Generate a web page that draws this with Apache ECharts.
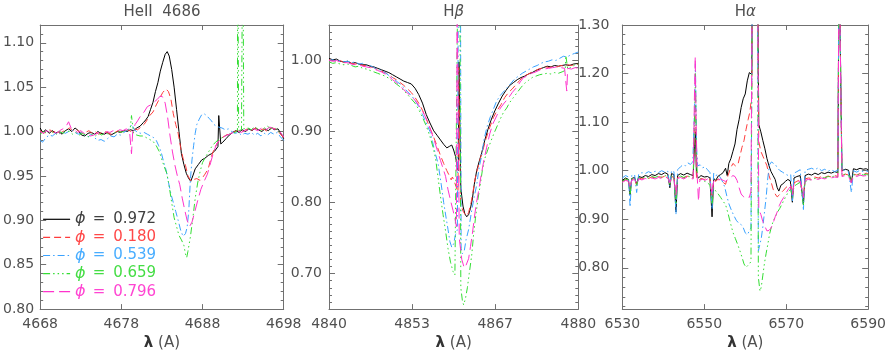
<!DOCTYPE html>
<html><head><meta charset="utf-8">
<script src="https://cdn.jsdelivr.net/npm/echarts@6/dist/echarts.min.js"></script>
<style>html,body{margin:0;padding:0;background:#fff}#c{width:889px;height:356px}</style>
</head><body><div id="c"></div>
<script>
// ---------- data ----------
const phases = ['0.972', '0.180', '0.539', '0.659', '0.796'];
const panelTitles = ['HeII  4686', 'H{g|β}', 'H{g|α}'];
const xLabelName = '{l|λ} (A)';

const heXTicks = [4668, 4678, 4688, 4698];
const hbXTicks = [4840, 4853.333, 4866.667, 4880];
const haXTicks = [6530, 6550, 6570, 6590];
const heYTicks = [0.80, 0.85, 0.90, 0.95, 1.00, 1.05, 1.10];
const hbYTicks = [0.70, 0.80, 0.90, 1.00];
const haYTicks = [0.80, 0.90, 1.00, 1.10, 1.20, 1.30];

// HeII 4686
const he972 = [[4668.0,1.004],[4668.3,0.999],[4668.7,1.002],[4669.1,0.998],[4669.5,1.001],[4669.9,0.998],[4670.3,1.000],[4670.7,0.997],[4671.1,1.001],[4671.5,1.003],[4671.9,1.000],[4672.3,1.004],[4672.7,1.001],[4673.1,0.996],[4673.5,0.995],[4673.9,0.998],[4674.3,0.999],[4674.7,0.997],[4675.1,1.000],[4675.5,0.998],[4675.9,0.997],[4676.3,0.999],[4676.7,0.996],[4677.1,0.998],[4677.5,1.000],[4677.9,0.999],[4678.3,1.001],[4678.7,1.000],[4679.1,1.002],[4679.5,1.001],[4679.9,1.004],[4680.3,1.006],[4680.7,1.010],[4681.0,1.013],[4681.3,1.017],[4681.6,1.025],[4681.9,1.033],[4682.2,1.045],[4682.5,1.055],[4682.8,1.068],[4683.1,1.078],[4683.4,1.087],[4683.65,1.090],[4683.9,1.085],[4684.2,1.070],[4684.5,1.050],[4684.8,1.025],[4685.1,1.000],[4685.4,0.975],[4685.7,0.963],[4686.0,0.953],[4686.3,0.947],[4686.55,0.944],[4686.8,0.950],[4687.1,0.958],[4687.5,0.963],[4687.9,0.968],[4688.3,0.970],[4688.7,0.973],[4689.1,0.975],[4689.5,0.978],[4689.9,0.983],[4690.0,1.018],[4690.15,1.019],[4690.25,0.986],[4690.5,0.988],[4690.9,0.992],[4691.3,0.996],[4691.7,0.999],[4692.1,1.001],[4692.5,0.999],[4692.9,1.002],[4693.3,1.000],[4693.7,1.003],[4694.1,1.001],[4694.5,1.004],[4694.9,1.002],[4695.3,1.000],[4695.7,1.003],[4696.1,1.001],[4696.5,1.004],[4696.9,1.002],[4697.3,1.003],[4697.7,0.997],[4698.0,0.992]];
const he180 = [[4668.0,1.001],[4668.4,0.998],[4668.8,1.000],[4669.2,1.002],[4669.6,0.999],[4670.0,1.001],[4670.4,0.998],[4670.8,1.000],[4671.2,1.002],[4671.6,1.004],[4672.0,1.001],[4672.4,1.003],[4672.8,1.000],[4673.2,0.998],[4673.6,0.999],[4674.0,1.001],[4674.4,0.998],[4674.8,1.000],[4675.2,0.997],[4675.6,0.999],[4676.0,1.000],[4676.4,0.998],[4676.8,0.997],[4677.2,0.999],[4677.6,1.001],[4678.0,0.999],[4678.4,1.000],[4678.8,1.002],[4679.2,1.000],[4679.6,1.003],[4680.0,1.002],[4680.4,1.005],[4680.8,1.008],[4681.1,1.012],[4681.5,1.018],[4681.9,1.022],[4682.3,1.030],[4682.7,1.037],[4683.1,1.044],[4683.5,1.048],[4683.8,1.045],[4684.1,1.037],[4684.4,1.020],[4684.7,1.008],[4685.0,0.998],[4685.3,0.982],[4685.6,0.970],[4685.9,0.962],[4686.2,0.950],[4686.6,0.944],[4686.9,0.946],[4687.3,0.947],[4687.7,0.945],[4688.0,0.948],[4688.3,0.952],[4688.7,0.958],[4689.1,0.972],[4689.5,0.982],[4689.9,0.988],[4690.4,0.993],[4690.9,0.996],[4691.5,0.998],[4692.0,1.000],[4692.5,1.002],[4693.0,1.000],[4693.5,1.003],[4694.0,1.001],[4694.5,1.004],[4695.0,1.001],[4695.5,1.003],[4696.0,1.000],[4696.5,1.004],[4697.0,1.003],[4697.5,0.998],[4698.0,0.993]];
const he539 = [[4668.0,0.990],[4668.3,0.988],[4668.7,0.993],[4669.1,0.996],[4669.5,0.995],[4669.9,0.998],[4670.3,0.997],[4670.7,1.000],[4671.1,0.998],[4671.5,1.000],[4671.9,1.002],[4672.3,0.999],[4672.7,0.997],[4673.1,0.999],[4673.5,0.996],[4673.9,0.994],[4674.3,0.997],[4674.7,0.993],[4675.1,0.990],[4675.5,0.991],[4675.9,0.989],[4676.3,0.992],[4676.7,0.995],[4677.1,0.994],[4677.5,0.997],[4677.9,0.996],[4678.3,0.999],[4678.7,1.001],[4679.0,1.004],[4679.3,1.008],[4679.6,1.002],[4680.0,0.999],[4680.4,0.998],[4680.8,0.999],[4681.2,0.997],[4681.6,0.995],[4682.0,0.993],[4682.3,0.990],[4682.6,0.984],[4682.9,0.977],[4683.2,0.966],[4683.5,0.957],[4683.8,0.943],[4684.1,0.930],[4684.4,0.920],[4684.7,0.910],[4685.0,0.900],[4685.3,0.889],[4685.6,0.882],[4685.9,0.885],[4686.1,0.892],[4686.3,0.910],[4686.5,0.945],[4686.7,0.968],[4686.9,0.984],[4687.1,0.998],[4687.3,1.008],[4687.6,1.014],[4687.9,1.019],[4688.2,1.020],[4688.5,1.018],[4688.8,1.015],[4689.1,1.012],[4689.4,1.008],[4689.7,1.006],[4690.0,1.005],[4690.4,1.004],[4690.8,1.002],[4691.2,1.003],[4691.6,1.000],[4692.0,0.998],[4692.4,0.999],[4692.8,0.996],[4693.2,0.998],[4693.6,0.997],[4694.0,0.999],[4694.4,0.996],[4694.8,0.998],[4695.2,0.995],[4695.6,0.998],[4696.0,0.996],[4696.4,0.999],[4696.8,0.997],[4697.2,0.999],[4697.6,0.994],[4698.0,0.990]];
const he659 = [[4668.0,0.997],[4668.4,1.000],[4668.8,0.998],[4669.2,1.001],[4669.6,0.999],[4670.0,0.997],[4670.4,1.000],[4670.8,0.998],[4671.2,1.001],[4671.6,1.000],[4672.0,0.997],[4672.4,0.999],[4672.8,0.996],[4673.2,0.998],[4673.6,0.996],[4674.0,0.994],[4674.4,0.997],[4674.8,0.995],[4675.2,0.998],[4675.6,0.996],[4676.0,0.999],[4676.4,0.997],[4676.8,1.000],[4677.2,0.998],[4677.6,1.001],[4678.0,0.999],[4678.4,1.001],[4678.8,1.002],[4679.1,1.004],[4679.25,1.018],[4679.35,1.017],[4679.5,0.998],[4679.9,0.996],[4680.3,0.995],[4680.7,0.995],[4681.1,0.993],[4681.5,0.991],[4681.9,0.989],[4682.3,0.984],[4682.7,0.977],[4683.0,0.968],[4683.3,0.960],[4683.6,0.953],[4683.9,0.938],[4684.2,0.920],[4684.5,0.903],[4684.8,0.893],[4685.1,0.883],[4685.4,0.878],[4685.7,0.872],[4685.9,0.862],[4686.05,0.858],[4686.2,0.865],[4686.5,0.881],[4686.8,0.902],[4687.1,0.925],[4687.4,0.942],[4687.7,0.955],[4688.0,0.965],[4688.4,0.972],[4688.8,0.978],[4689.2,0.984],[4689.6,0.988],[4690.0,0.991],[4690.4,0.993],[4690.8,0.995],[4691.2,0.997],[4691.6,0.998],[4692.0,0.999],[4692.3,1.001],[4692.33,1.25],[4692.42,1.25],[4692.45,1.001],[4692.8,1.002],[4692.93,1.003],[4692.96,1.25],[4693.05,1.25],[4693.08,1.003],[4693.6,1.004],[4694.0,1.002],[4694.4,1.005],[4694.8,1.003],[4695.2,1.001],[4695.6,1.004],[4696.0,1.006],[4696.4,1.003],[4696.8,1.005],[4697.2,1.002],[4697.6,0.998],[4698.0,0.994]];
const he796 = [[4668.0,1.000],[4668.4,0.998],[4668.8,1.001],[4669.2,0.999],[4669.6,1.000],[4670.0,0.998],[4670.4,1.001],[4670.8,1.003],[4671.2,1.006],[4671.5,1.011],[4671.8,1.004],[4672.2,1.002],[4672.6,0.999],[4673.0,1.001],[4673.4,0.998],[4673.8,0.997],[4674.2,0.995],[4674.6,0.996],[4675.0,0.998],[4675.4,0.999],[4675.8,0.997],[4676.2,1.000],[4676.6,0.999],[4677.0,1.001],[4677.4,1.000],[4677.8,1.002],[4678.2,1.001],[4678.6,1.003],[4679.0,1.001],[4679.2,0.999],[4679.25,0.975],[4679.35,0.975],[4679.4,1.000],[4679.7,1.008],[4680.0,1.012],[4680.4,1.018],[4680.8,1.022],[4681.2,1.028],[4681.6,1.030],[4682.0,1.033],[4682.4,1.036],[4682.8,1.040],[4683.1,1.039],[4683.4,1.032],[4683.7,1.016],[4684.0,0.995],[4684.3,0.977],[4684.6,0.962],[4684.9,0.950],[4685.2,0.940],[4685.5,0.925],[4685.8,0.912],[4686.1,0.900],[4686.4,0.893],[4686.7,0.898],[4687.0,0.908],[4687.4,0.922],[4687.8,0.935],[4688.2,0.944],[4688.6,0.952],[4689.0,0.965],[4689.4,0.978],[4689.8,0.987],[4690.3,0.992],[4690.8,0.995],[4691.3,0.997],[4691.8,0.999],[4692.3,1.001],[4692.8,0.999],[4693.3,1.002],[4693.8,1.000],[4694.3,1.003],[4694.8,1.001],[4695.3,1.004],[4695.8,1.002],[4696.3,1.005],[4696.8,1.003],[4697.3,1.002],[4697.7,0.998],[4698.0,0.994]];

// H-beta
const hb972 = [[4840.0,1.003],[4840.6,1.001],[4841.2,1.002],[4841.8,0.999],[4842.4,0.998],[4843.0,0.999],[4843.6,0.996],[4844.2,0.997],[4844.8,0.995],[4845.4,0.994],[4846.0,0.994],[4846.6,0.992],[4847.2,0.991],[4847.8,0.989],[4848.4,0.987],[4849.0,0.985],[4849.6,0.983],[4850.2,0.980],[4850.8,0.977],[4851.4,0.974],[4852.0,0.971],[4852.6,0.969],[4853.2,0.967],[4853.8,0.961],[4854.4,0.952],[4855.0,0.940],[4855.6,0.924],[4856.2,0.912],[4856.8,0.901],[4857.4,0.894],[4857.9,0.888],[4858.4,0.882],[4858.9,0.877],[4859.3,0.879],[4859.7,0.881],[4860.0,0.874],[4860.3,0.865],[4860.55,0.852],[4860.75,0.845],[4860.85,0.998],[4861.0,0.996],[4861.15,0.820],[4861.5,0.795],[4861.8,0.784],[4862.1,0.780],[4862.4,0.783],[4862.7,0.792],[4863.0,0.805],[4863.3,0.825],[4863.7,0.845],[4864.1,0.858],[4864.5,0.870],[4865.0,0.888],[4865.5,0.903],[4866.0,0.916],[4866.6,0.929],[4867.2,0.940],[4867.8,0.950],[4868.4,0.958],[4869.0,0.965],[4869.6,0.969],[4870.2,0.973],[4870.8,0.976],[4871.4,0.978],[4872.0,0.981],[4872.6,0.983],[4873.2,0.986],[4873.8,0.988],[4874.4,0.990],[4875.0,0.992],[4875.6,0.991],[4876.2,0.993],[4876.8,0.992],[4877.4,0.993],[4878.0,0.994],[4878.6,0.993],[4879.2,0.995],[4880.0,0.996]];
const hb180 = [[4840.0,1.001],[4840.6,1.000],[4841.2,0.999],[4841.8,1.000],[4842.4,0.997],[4843.0,0.998],[4843.6,0.996],[4844.2,0.995],[4844.8,0.996],[4845.4,0.993],[4846.0,0.993],[4846.6,0.991],[4847.2,0.990],[4847.8,0.987],[4848.4,0.985],[4849.0,0.983],[4849.6,0.980],[4850.2,0.976],[4850.8,0.973],[4851.4,0.969],[4852.0,0.965],[4852.6,0.960],[4853.2,0.955],[4853.8,0.948],[4854.4,0.940],[4855.0,0.930],[4855.6,0.918],[4856.2,0.905],[4856.8,0.892],[4857.4,0.878],[4857.9,0.866],[4858.4,0.855],[4858.9,0.845],[4859.3,0.838],[4859.6,0.832],[4859.8,0.836],[4860.1,0.830],[4860.4,0.822],[4860.7,0.815],[4860.8,0.99],[4860.95,0.99],[4861.1,0.800],[4861.5,0.788],[4861.8,0.784],[4862.1,0.781],[4862.4,0.786],[4862.8,0.800],[4863.1,0.815],[4863.4,0.832],[4863.8,0.846],[4864.2,0.860],[4864.7,0.874],[4865.2,0.890],[4865.8,0.906],[4866.4,0.920],[4867.0,0.930],[4867.6,0.938],[4868.2,0.948],[4868.8,0.955],[4869.4,0.960],[4870.0,0.966],[4870.6,0.972],[4871.2,0.978],[4871.8,0.980],[4872.4,0.983],[4873.0,0.985],[4873.6,0.988],[4874.2,0.989],[4874.8,0.991],[4875.4,0.990],[4876.0,0.992],[4876.6,0.991],[4877.2,0.993],[4877.8,0.992],[4878.4,0.994],[4879.0,0.993],[4879.6,0.996],[4880.0,0.994]];
const hb539 = [[4840.0,1.000],[4840.6,1.001],[4841.2,0.999],[4841.8,1.000],[4842.4,0.998],[4843.0,0.999],[4843.6,0.997],[4844.2,0.998],[4844.8,0.995],[4845.4,0.996],[4846.0,0.993],[4846.6,0.993],[4847.2,0.990],[4847.8,0.988],[4848.4,0.986],[4849.0,0.983],[4849.6,0.979],[4850.2,0.976],[4850.8,0.971],[4851.4,0.967],[4852.0,0.962],[4852.6,0.956],[4853.2,0.951],[4853.8,0.944],[4854.4,0.935],[4855.0,0.924],[4855.6,0.912],[4856.2,0.900],[4856.6,0.886],[4857.0,0.871],[4857.5,0.855],[4858.0,0.826],[4858.4,0.800],[4858.8,0.778],[4859.1,0.762],[4859.4,0.745],[4859.7,0.737],[4860.0,0.742],[4860.3,0.755],[4860.6,0.762],[4860.75,1.1],[4861.1,1.1],[4861.2,0.735],[4861.4,0.728],[4861.7,0.732],[4862.0,0.748],[4862.4,0.762],[4862.9,0.789],[4863.3,0.808],[4863.7,0.825],[4864.1,0.850],[4864.5,0.866],[4864.9,0.890],[4865.4,0.908],[4865.9,0.921],[4866.4,0.932],[4866.9,0.943],[4867.5,0.951],[4868.1,0.957],[4868.6,0.962],[4869.2,0.968],[4869.8,0.974],[4870.4,0.978],[4871.0,0.982],[4871.6,0.985],[4872.2,0.988],[4872.8,0.991],[4873.4,0.993],[4874.0,0.996],[4874.6,0.998],[4875.2,0.999],[4875.8,1.001],[4876.4,1.000],[4877.0,1.003],[4877.6,1.006],[4878.2,1.005],[4878.8,1.008],[4879.4,1.010],[4880.0,1.012]];
const hb659 = [[4840.0,0.998],[4840.6,0.996],[4841.2,0.997],[4841.8,0.995],[4842.4,0.994],[4843.0,0.995],[4843.6,0.993],[4844.2,0.991],[4844.8,0.992],[4845.4,0.989],[4846.0,0.988],[4846.6,0.986],[4847.2,0.984],[4847.8,0.982],[4848.4,0.980],[4849.0,0.978],[4849.6,0.975],[4850.2,0.971],[4850.8,0.967],[4851.4,0.963],[4852.0,0.958],[4852.6,0.952],[4853.2,0.946],[4853.8,0.940],[4854.4,0.931],[4855.0,0.920],[4855.6,0.908],[4856.2,0.893],[4856.7,0.878],[4857.1,0.862],[4857.5,0.835],[4857.9,0.808],[4858.3,0.783],[4858.7,0.760],[4859.1,0.735],[4859.5,0.716],[4859.9,0.703],[4860.2,0.698],[4860.5,0.700],[4860.65,1.1],[4861.0,1.1],[4861.15,0.680],[4861.4,0.662],[4861.6,0.656],[4861.9,0.665],[4862.2,0.680],[4862.5,0.700],[4862.9,0.726],[4863.2,0.755],[4863.5,0.778],[4863.9,0.805],[4864.2,0.821],[4864.6,0.845],[4865.0,0.862],[4865.5,0.875],[4866.0,0.887],[4866.5,0.898],[4867.0,0.908],[4867.5,0.918],[4868.0,0.927],[4868.5,0.933],[4869.0,0.941],[4869.6,0.948],[4870.2,0.955],[4870.8,0.962],[4871.4,0.968],[4872.0,0.972],[4872.6,0.976],[4873.2,0.978],[4873.8,0.980],[4874.4,0.981],[4875.0,0.982],[4875.6,0.981],[4876.2,0.983],[4876.8,0.982],[4877.4,0.984],[4877.9,0.986],[4878.0,1.007],[4878.15,1.008],[4878.3,0.988],[4878.9,0.991],[4879.5,0.994],[4880.0,0.995]];
const hb796 = [[4840.0,1.000],[4840.6,0.999],[4841.2,1.000],[4841.8,0.998],[4842.4,0.997],[4843.0,0.997],[4843.6,0.995],[4844.2,0.994],[4844.8,0.994],[4845.4,0.992],[4846.0,0.991],[4846.6,0.990],[4847.2,0.988],[4847.8,0.986],[4848.4,0.984],[4849.0,0.981],[4849.6,0.978],[4850.2,0.973],[4850.8,0.969],[4851.4,0.964],[4852.0,0.959],[4852.6,0.954],[4853.2,0.950],[4853.8,0.944],[4854.4,0.937],[4855.0,0.929],[4855.6,0.918],[4856.2,0.905],[4856.8,0.890],[4857.4,0.873],[4857.9,0.859],[4858.3,0.848],[4858.7,0.837],[4859.1,0.818],[4859.5,0.803],[4859.9,0.789],[4860.2,0.778],[4860.45,0.766],[4860.55,1.1],[4860.75,1.1],[4860.9,0.750],[4861.3,0.720],[4861.7,0.708],[4862.0,0.712],[4862.4,0.721],[4862.7,0.738],[4863.0,0.756],[4863.4,0.784],[4863.7,0.802],[4864.0,0.816],[4864.4,0.838],[4864.8,0.857],[4865.3,0.878],[4865.8,0.897],[4866.3,0.911],[4866.9,0.922],[4867.5,0.933],[4868.1,0.940],[4868.7,0.946],[4869.4,0.955],[4870.1,0.962],[4870.7,0.970],[4871.2,0.976],[4871.8,0.978],[4872.5,0.982],[4873.2,0.984],[4873.9,0.987],[4874.5,0.988],[4875.2,0.989],[4875.9,0.990],[4876.5,0.991],[4877.2,0.990],[4877.8,0.989],[4878.0,0.970],[4878.15,0.957],[4878.3,0.989],[4878.9,0.988],[4879.5,0.990],[4880.0,0.989]];

// H-alpha
const ha972 = [[6530.0,0.980],[6530.8,0.985],[6531.5,0.982],[6531.9,0.950],[6532.3,0.984],[6533.0,0.986],[6533.5,0.972],[6534.0,0.988],[6534.8,0.986],[6535.6,0.990],[6536.4,0.988],[6537.2,0.992],[6538.0,0.990],[6538.8,0.994],[6539.6,0.992],[6540.4,0.996],[6541.1,0.993],[6541.6,0.965],[6542.0,0.994],[6542.6,0.992],[6543.1,0.915],[6543.5,0.990],[6544.2,0.994],[6545.0,0.991],[6545.8,0.995],[6546.6,0.992],[6547.3,0.990],[6547.6,1.050],[6547.85,1.080],[6548.1,0.992],[6548.6,0.985],[6549.2,0.990],[6550.0,0.987],[6550.8,0.988],[6551.4,0.985],[6551.9,0.905],[6552.3,0.984],[6552.8,0.980],[6553.4,0.989],[6554.0,0.992],[6554.6,0.996],[6555.2,1.005],[6555.6,0.990],[6556.0,1.015],[6556.5,1.025],[6557.0,1.040],[6557.5,1.055],[6558.0,1.085],[6558.5,1.105],[6559.0,1.130],[6559.5,1.148],[6560.0,1.158],[6560.5,1.185],[6561.0,1.202],[6561.3,1.205],[6561.6,1.198],[6561.75,1.45],[6563.0,1.45],[6563.3,1.095],[6563.8,1.080],[6564.3,1.062],[6564.8,1.045],[6565.3,1.025],[6565.8,1.010],[6566.3,0.998],[6566.8,0.990],[6567.3,0.982],[6567.8,0.965],[6568.2,0.958],[6568.7,0.970],[6569.2,0.973],[6569.8,0.978],[6570.4,0.982],[6571.0,0.979],[6571.5,0.935],[6571.9,0.985],[6572.6,0.988],[6573.4,0.990],[6574.2,0.930],[6574.6,0.990],[6575.4,0.993],[6576.2,0.991],[6577.0,0.995],[6577.8,0.992],[6578.6,0.996],[6579.4,0.994],[6580.2,0.997],[6581.0,0.995],[6581.8,0.998],[6582.6,0.996],[6582.9,1.45],[6583.3,1.45],[6583.6,1.000],[6584.4,1.003],[6585.2,1.001],[6585.9,0.975],[6586.4,1.004],[6587.2,1.002],[6588.0,1.005],[6588.8,1.003],[6589.5,1.004],[6590.0,1.002]];
const ha180 = [[6530.0,0.978],[6530.8,0.982],[6531.5,0.980],[6531.9,0.960],[6532.3,0.982],[6533.0,0.984],[6533.5,0.970],[6534.0,0.985],[6534.8,0.983],[6535.6,0.986],[6536.4,0.984],[6537.2,0.987],[6538.0,0.985],[6538.8,0.988],[6539.6,0.986],[6540.4,0.989],[6541.1,0.987],[6541.6,0.975],[6542.0,0.988],[6542.6,0.986],[6543.1,0.950],[6543.5,0.986],[6544.2,0.988],[6545.0,0.985],[6545.8,0.989],[6546.6,0.986],[6547.3,0.985],[6547.6,1.100],[6547.85,1.150],[6548.1,0.986],[6548.6,0.980],[6549.2,0.984],[6550.0,0.982],[6550.8,0.985],[6551.4,0.982],[6551.9,0.950],[6552.3,0.981],[6552.8,0.978],[6553.4,0.983],[6554.0,0.980],[6554.6,0.976],[6555.2,0.972],[6555.8,0.990],[6556.4,1.005],[6557.0,1.015],[6557.6,1.010],[6558.2,1.012],[6558.7,1.030],[6559.2,1.048],[6559.7,1.062],[6560.2,1.085],[6560.7,1.105],[6561.1,1.120],[6561.4,1.140],[6561.6,1.145],[6561.75,1.45],[6563.0,1.45],[6563.3,1.060],[6563.8,1.040],[6564.3,1.030],[6564.8,1.020],[6565.3,1.010],[6565.8,0.990],[6566.3,0.977],[6566.8,0.962],[6567.3,0.952],[6567.8,0.946],[6568.3,0.950],[6568.8,0.955],[6569.4,0.960],[6570.0,0.966],[6570.6,0.970],[6571.1,0.972],[6571.5,0.950],[6571.9,0.975],[6572.6,0.978],[6573.4,0.982],[6574.2,0.945],[6574.6,0.983],[6575.4,0.985],[6576.2,0.984],[6577.0,0.987],[6577.8,0.985],[6578.6,0.988],[6579.4,0.986],[6580.2,0.989],[6581.0,0.987],[6581.8,0.990],[6582.6,0.988],[6582.9,1.45],[6583.3,1.45],[6583.6,0.990],[6584.4,0.993],[6585.2,0.991],[6585.9,0.978],[6586.4,0.993],[6587.2,0.991],[6588.0,0.994],[6588.8,0.992],[6589.5,0.995],[6590.0,0.993]];
const ha539 = [[6530.0,0.985],[6530.8,0.990],[6531.5,0.987],[6531.9,0.925],[6532.3,0.990],[6533.0,0.992],[6533.5,0.955],[6534.0,0.993],[6534.8,0.996],[6535.6,0.994],[6536.4,0.998],[6537.2,0.995],[6538.0,0.999],[6538.8,0.996],[6539.6,1.000],[6540.4,0.997],[6541.1,0.999],[6541.6,0.968],[6542.0,1.000],[6542.6,0.998],[6543.1,0.910],[6543.5,1.002],[6544.2,1.008],[6544.8,1.012],[6545.4,1.010],[6546.0,1.016],[6546.6,1.013],[6547.2,1.018],[6547.6,1.120],[6547.85,1.220],[6548.1,1.050],[6548.4,1.010],[6549.0,1.012],[6549.6,1.006],[6550.2,1.008],[6550.8,1.002],[6551.4,0.996],[6551.9,0.920],[6552.3,0.995],[6552.8,0.990],[6553.4,0.992],[6554.0,0.985],[6554.6,0.975],[6555.0,0.966],[6555.5,0.948],[6556.0,0.932],[6556.6,0.919],[6557.2,0.908],[6557.8,0.898],[6558.4,0.892],[6559.0,0.889],[6559.5,0.883],[6560.0,0.872],[6560.5,0.868],[6561.0,0.876],[6561.4,0.882],[6561.6,0.885],[6561.75,1.45],[6563.0,1.45],[6563.2,0.835],[6563.5,0.833],[6563.9,0.860],[6564.3,0.885],[6564.7,0.915],[6565.1,0.945],[6565.5,0.985],[6565.9,1.012],[6566.4,1.018],[6566.9,1.015],[6567.4,1.012],[6567.9,1.005],[6568.5,1.000],[6569.1,0.997],[6569.8,0.993],[6570.5,0.990],[6571.1,0.992],[6571.5,0.935],[6571.9,0.995],[6572.6,0.998],[6573.4,1.002],[6574.2,0.920],[6574.6,1.000],[6575.4,1.003],[6576.2,1.005],[6577.0,1.002],[6577.8,1.006],[6578.6,1.000],[6579.4,1.003],[6580.2,0.999],[6581.0,1.002],[6581.8,0.998],[6582.6,1.001],[6582.9,1.45],[6583.3,1.45],[6583.6,0.999],[6584.4,1.002],[6585.2,0.998],[6585.9,0.955],[6586.4,1.000],[6587.2,0.997],[6588.0,1.001],[6588.8,0.998],[6589.5,1.000],[6590.0,0.998]];
const ha659 = [[6530.0,0.978],[6530.8,0.983],[6531.5,0.981],[6531.9,0.950],[6532.3,0.983],[6533.0,0.985],[6533.5,0.970],[6534.0,0.986],[6534.8,0.984],[6535.6,0.987],[6536.4,0.985],[6537.2,0.988],[6538.0,0.986],[6538.8,0.989],[6539.6,0.987],[6540.4,0.990],[6541.1,0.988],[6541.6,0.972],[6542.0,0.989],[6542.6,0.987],[6543.1,0.930],[6543.5,0.987],[6544.2,0.989],[6545.0,0.986],[6545.8,0.990],[6546.6,0.987],[6547.3,0.986],[6547.6,1.100],[6547.85,1.200],[6548.1,1.020],[6548.4,0.985],[6549.0,0.983],[6549.6,0.980],[6550.2,0.978],[6550.8,0.975],[6551.4,0.970],[6551.9,0.930],[6552.3,0.965],[6552.8,0.958],[6553.4,0.952],[6554.0,0.945],[6554.6,0.937],[6555.2,0.930],[6555.8,0.912],[6556.4,0.892],[6557.0,0.873],[6557.6,0.860],[6558.2,0.847],[6558.7,0.835],[6559.2,0.822],[6559.7,0.808],[6560.2,0.801],[6560.6,0.799],[6561.0,0.808],[6561.4,0.813],[6561.6,0.815],[6561.75,1.45],[6563.0,1.45],[6563.2,0.780],[6563.6,0.752],[6563.9,0.760],[6564.3,0.785],[6564.7,0.810],[6565.1,0.830],[6565.5,0.848],[6565.9,0.868],[6566.4,0.885],[6566.9,0.898],[6567.4,0.906],[6567.9,0.915],[6568.4,0.922],[6568.9,0.930],[6569.4,0.939],[6570.0,0.948],[6570.6,0.958],[6571.1,0.962],[6571.5,0.945],[6571.9,0.968],[6572.6,0.972],[6573.4,0.976],[6574.2,0.930],[6574.6,0.978],[6575.4,0.980],[6576.2,0.982],[6577.0,0.984],[6577.8,0.983],[6578.6,0.986],[6579.4,0.985],[6580.2,0.988],[6581.0,0.987],[6581.8,0.989],[6582.6,0.988],[6582.9,1.45],[6583.3,1.45],[6583.6,0.990],[6584.4,0.993],[6585.2,0.991],[6585.9,0.978],[6586.4,0.992],[6587.2,0.990],[6588.0,0.993],[6588.8,0.991],[6589.5,0.993],[6590.0,0.991]];
const ha796 = [[6530.0,0.976],[6530.8,0.980],[6531.5,0.978],[6531.9,0.965],[6532.3,0.980],[6533.0,0.982],[6533.5,0.972],[6534.0,0.983],[6534.8,0.981],[6535.6,0.984],[6536.4,0.982],[6537.2,0.985],[6538.0,0.983],[6538.8,0.986],[6539.6,0.984],[6540.4,0.987],[6541.1,0.985],[6541.6,0.975],[6542.0,0.986],[6542.6,0.984],[6543.1,0.950],[6543.5,0.984],[6544.2,0.986],[6545.0,0.983],[6545.8,0.987],[6546.6,0.984],[6547.3,0.983],[6547.6,1.150],[6547.8,1.235],[6548.0,1.100],[6548.3,0.985],[6548.6,0.937],[6548.9,0.980],[6549.5,0.983],[6550.2,0.980],[6550.8,0.983],[6551.4,0.980],[6551.9,0.950],[6552.3,0.979],[6552.8,0.976],[6553.4,0.981],[6554.0,0.983],[6554.6,0.980],[6555.2,0.978],[6555.8,0.982],[6556.4,0.986],[6557.0,0.990],[6557.5,0.988],[6558.0,0.980],[6558.5,0.965],[6559.0,0.952],[6559.5,0.947],[6560.0,0.944],[6560.5,0.946],[6561.0,0.945],[6561.4,0.958],[6561.6,0.960],[6561.75,1.45],[6563.0,1.45],[6563.3,0.920],[6563.8,0.910],[6564.3,0.895],[6564.8,0.885],[6565.3,0.876],[6565.8,0.877],[6566.3,0.882],[6566.8,0.892],[6567.3,0.905],[6567.8,0.915],[6568.3,0.928],[6568.8,0.937],[6569.4,0.945],[6570.0,0.955],[6570.6,0.963],[6571.1,0.968],[6571.5,0.950],[6571.9,0.972],[6572.6,0.975],[6573.4,0.979],[6574.2,0.945],[6574.6,0.980],[6575.4,0.982],[6576.2,0.981],[6577.0,0.984],[6577.8,0.982],[6578.6,0.985],[6579.4,0.983],[6580.2,0.986],[6581.0,0.985],[6581.8,0.987],[6582.6,0.986],[6582.9,1.45],[6583.3,1.45],[6583.6,0.988],[6584.4,0.990],[6585.2,0.988],[6585.9,0.975],[6586.4,0.990],[6587.2,0.988],[6588.0,0.991],[6588.8,0.989],[6589.5,0.990],[6590.0,0.988]];

// ---------- styles ----------
const FONT = 'DejaVu Sans';
const AXC = '#707070';
const TXC = '#505050';
const lineColors = ['#000000', '#ff3c3c', '#3aa2ff', '#33dd33', '#ff33cc'];
const textColors = ['#404040', '#ff4848', '#48adff', '#44dd44', '#ff44d2'];
const dashes = ['solid', [7, 4], [7, 3, 1.5, 3], [7, 3, 1.5, 3, 1.5, 3, 1.5, 3], [11, 5]];

const panels = [
  { x: [4668, 4698], y: [0.80, 1.12], xt: heXTicks, yt: heYTicks, minor: 0.01, left: 34.3, width: 249.4, lm: 6, data: [he972, he180, he539, he659, he796] },
  { x: [4840, 4880], y: [0.65, 1.05], xt: hbXTicks, yt: hbYTicks, minor: 0.01, left: 329, width: 249.3, lm: 7, data: [hb972, hb180, hb539, hb659, hb796] },
  { x: [6530, 6590], y: [0.715, 1.30], xt: haXTicks, yt: haYTicks, minor: 0.02, left: 622.3, width: 250.4, lm: 13, data: [ha972, ha180, ha539, ha659, ha796] }
];

function minorTicks(min, max, step) {
  const out = [];
  const s = Math.ceil(min / step - 1e-9);
  for (let k = s; k * step <= max + 1e-9; k++) out.push(Math.round(k * step * 1000) / 1000);
  return out;
}

const grids = [], xAxes = [], yAxes = [], series = [];
const richName = {
  g: { fontStyle: 'italic', fontFamily: FONT, fontSize: 15, color: TXC },
  l: { fontFamily: FONT, fontSize: 15, color: '#333', fontWeight: 'bold' }
};
panels.forEach((p, gi) => {
  grids.push({ left: p.left, top: 20.7, width: p.width, height: 295, show: false, containLabel: false });
  const tickStyle = { lineStyle: { color: AXC, width: 1 } };
  const axLine = { show: true, lineStyle: { color: AXC, width: 1 } };
  xAxes.push({
    type: 'value', gridIndex: gi, position: 'bottom', min: p.x[0], max: p.x[1],
    axisLine: axLine, splitLine: { show: false },
    axisTick: Object.assign({ show: true, inside: true, length: 5, customValues: p.xt }, tickStyle),
    axisLabel: { show: true, customValues: p.xt, formatter: v => String(Math.round(v)), margin: 8, color: TXC, fontSize: 14, fontFamily: FONT },
    name: xLabelName, nameLocation: 'middle', nameGap: 25,
    nameTextStyle: { color: TXC, fontSize: 15, fontFamily: FONT, rich: richName }
  });
  xAxes.push({
    type: 'value', gridIndex: gi, position: 'top', min: p.x[0], max: p.x[1],
    axisLine: axLine, splitLine: { show: false },
    axisTick: Object.assign({ show: true, inside: true, length: 5, customValues: p.xt }, tickStyle),
    axisLabel: { show: false },
    name: panelTitles[gi], nameLocation: 'middle', nameGap: 5,
    nameTextStyle: { color: TXC, fontSize: 15, fontFamily: FONT, rich: richName }
  });
  const mins = minorTicks(p.y[0], p.y[1], p.minor);
  ['left', 'right'].forEach(pos => {
    yAxes.push({
      type: 'value', gridIndex: gi, position: pos, min: p.y[0], max: p.y[1],
      axisLine: axLine, splitLine: { show: false },
      axisTick: Object.assign({ show: true, inside: true, length: 6, customValues: p.yt }, tickStyle),
      axisLabel: { show: pos === 'left', customValues: p.yt, formatter: v => v.toFixed(2), margin: p.lm, color: TXC, fontSize: 14, fontFamily: FONT }
    });
    yAxes.push({
      type: 'value', gridIndex: gi, position: pos, min: p.y[0], max: p.y[1],
      axisLine: { show: false }, splitLine: { show: false },
      axisTick: Object.assign({ show: true, inside: true, length: 3, customValues: mins }, tickStyle),
      axisLabel: { show: false }
    });
  });
  p.data.forEach((d, si) => {
    series.push({
      type: 'line', name: phases[si], data: d, xAxisIndex: gi * 2, yAxisIndex: gi * 4,
      symbol: 'none', showSymbol: false, clip: true, silent: true, animation: false,
      lineStyle: { color: lineColors[si], width: 1, type: dashes[si] },
      itemStyle: { color: lineColors[si] }
    });
  });
});

const chart = echarts.init(document.getElementById('c'), null, { renderer: 'canvas' });
chart.setOption({
  backgroundColor: '#ffffff',
  animation: false,
  grid: grids, xAxis: xAxes, yAxis: yAxes, series: series,
  legend: {
    show: true, orient: 'vertical', left: 42.5, top: 210.3,
    itemWidth: 27, itemHeight: 18, itemGap: 0.1, padding: 0,
    selectedMode: false,
    itemStyle: { opacity: 0, borderWidth: 0 },
    lineStyle: { width: 1.2 },
    data: phases.map((n, i) => ({ name: n, textStyle: { color: textColors[i] } })),
    formatter: n => '{i|ϕ}{e|=}' + n,
    textStyle: {
      fontSize: 15, fontFamily: FONT, lineHeight: 18,
      rich: {
        i: { fontStyle: 'italic', fontSize: 16, fontFamily: FONT },
        e: { fontSize: 15, fontFamily: FONT, padding: [0, 8, 0, 7] }
      }
    }
  }
});
</script>
</body></html>
